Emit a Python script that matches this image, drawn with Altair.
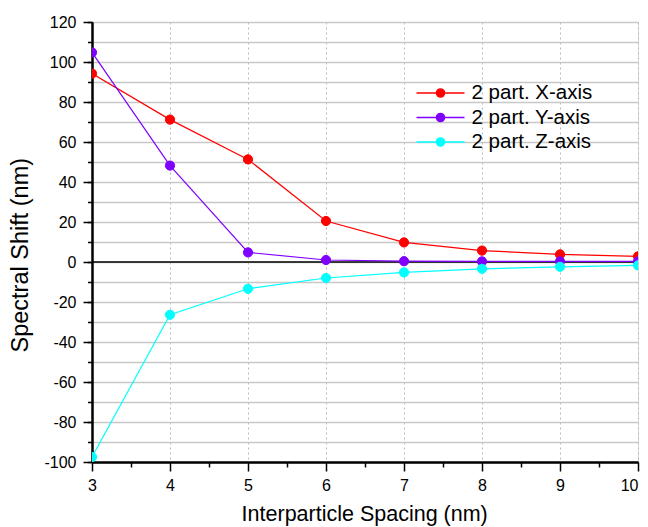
import altair as alt
import pandas as pd

spacing = [3, 4, 5, 6, 7, 8, 9, 10]
x_axis_shift = [94.2, 71.2, 51.3, 20.5, 9.8, 5.7, 3.8, 2.8]
y_axis_shift = [104.8, 48.2, 4.8, 1.0, 0.4, 0.3, 0.3, 0.3]
z_axis_shift = [-97.5, -26.4, -13.4, -8.0, -5.2, -3.4, -2.4, -1.7]

series_names = ["2 part. X-axis", "2 part. Y-axis", "2 part. Z-axis"]
series_colors = ["#FF0000", "#8000FF", "#00FFFF"]

y_major_ticks = [-100, -80, -60, -40, -20, 0, 20, 40, 60, 80, 100, 120]
y_minor_ticks = [-100, -90, -80, -70, -60, -50, -40, -30, -20, -10, 0,
                 10, 20, 30, 40, 50, 60, 70, 80, 90, 100, 110, 120]
x_major_ticks = [3, 4, 5, 6, 7, 8, 9, 10]
x_minor_ticks = [3.5, 4.5, 5.5, 6.5, 7.5, 8.5, 9.5]
zero_line = [0]

rows = []
for name, vals in zip(series_names, [x_axis_shift, y_axis_shift, z_axis_shift]):
    for s, v in zip(spacing, vals):
        rows.append({"spacing": s, "shift": v, "series": name})
df = pd.DataFrame(rows)

xscale = alt.Scale(domain=[3, 10], nice=False, zero=False)
yscale = alt.Scale(domain=[-100, 120], nice=False, zero=False)
cscale = alt.Scale(domain=series_names, range=series_colors)

FONT = "Liberation Sans"
SYMBOL = "M-2,0L2,0M-0.34,0A0.34,0.34,0,1,1,0.34,0A0.34,0.34,0,1,1,-0.34,0Z"

legend = alt.Legend(
    title=None, orient="none", legendX=335.5, legendY=58,
    symbolType=SYMBOL, symbolSize=576, symbolStrokeWidth=1.4,
    labelFontSize=20.5, labelFont=FONT, labelColor="black",
    labelOffset=18, rowPadding=0.5, padding=0,
)

common_axis = dict(domainColor="black", domainWidth=2, tickColor="black",
                   tickWidth=1.5, labelColor="black", labelFont=FONT,
                   titleFont=FONT, titleColor="black", titleFontWeight="normal")

major_x_axis = alt.Axis(
    orient="bottom", values=x_major_ticks, tickSize=9, labelPadding=6,
    labelFontSize=16, labelExpr="datum.value + ''", labelFlush=False,
    labelAlign={"condition": {"test": "datum.value == 10", "value": "right"},
                "value": "center"},
    labelOverlap=False, grid=True, gridColor="#b8b8b8",
    gridDash=[2, 3], gridWidth=1,
    title="Interparticle Spacing (nm)", titleFontSize=21.5,
    titleX=272.2, titleY=58.5, titleAlign="center", titleBaseline="alphabetic",
    titleAngle=0, **common_axis)
minor_x_axis = alt.Axis(
    orient="bottom", values=x_minor_ticks, tickSize=5, labels=False,
    grid=False, title=None, **common_axis)

major_y_axis = alt.Axis(
    orient="left", values=y_major_ticks, tickSize=9, labelPadding=7,
    labelFontSize=16, labelExpr="datum.value + ''", labelOverlap=False,
    labelFlush=False, grid=False,
    title="Spectral Shift (nm)", titleFontSize=23.5,
    titleX=-71.5, titleY=232.7, titleAlign="center", titleBaseline="middle",
    titleAngle=270, **common_axis)
minor_y_axis = alt.Axis(
    orient="left", values=y_minor_ticks, tickSize=4.5, labels=False,
    grid=True, gridColor="#c8c8c8", gridWidth=1.5, title=None, **common_axis)

zero = alt.Chart(pd.DataFrame({"zero": zero_line})).mark_rule(
    color="black", strokeWidth=1.5
).encode(y=alt.Y("zero:Q", scale=yscale, axis=None))

lines = alt.Chart(df).mark_line(strokeWidth=1.2, clip=True).encode(
    x=alt.X("spacing:Q", scale=xscale, axis=major_x_axis),
    y=alt.Y("shift:Q", scale=yscale, axis=major_y_axis),
    stroke=alt.Stroke("series:N", scale=cscale, legend=legend),
)

points = alt.Chart(df).mark_point(
    filled=True, size=85, opacity=1, strokeWidth=1, clip=True
).encode(
    x=alt.X("spacing:Q", scale=xscale, axis=minor_x_axis),
    y=alt.Y("shift:Q", scale=yscale, axis=minor_y_axis),
    fill=alt.Fill("series:N", scale=cscale, legend=legend),
    stroke=alt.Stroke("series:N", scale=cscale, legend=legend),
)

chart = alt.layer(zero, lines, points).resolve_axis(
    x="independent", y="independent"
).properties(
    width=546, height=440,
    autosize=alt.AutoSizeParams(type="none"),
    padding={"left": 84, "top": 14, "right": 2, "bottom": 65},
).configure_view(
    stroke="black", strokeWidth=2
).configure(background="white")

chart.save("out.html", embed_options={"renderer": "svg", "actions": False})
